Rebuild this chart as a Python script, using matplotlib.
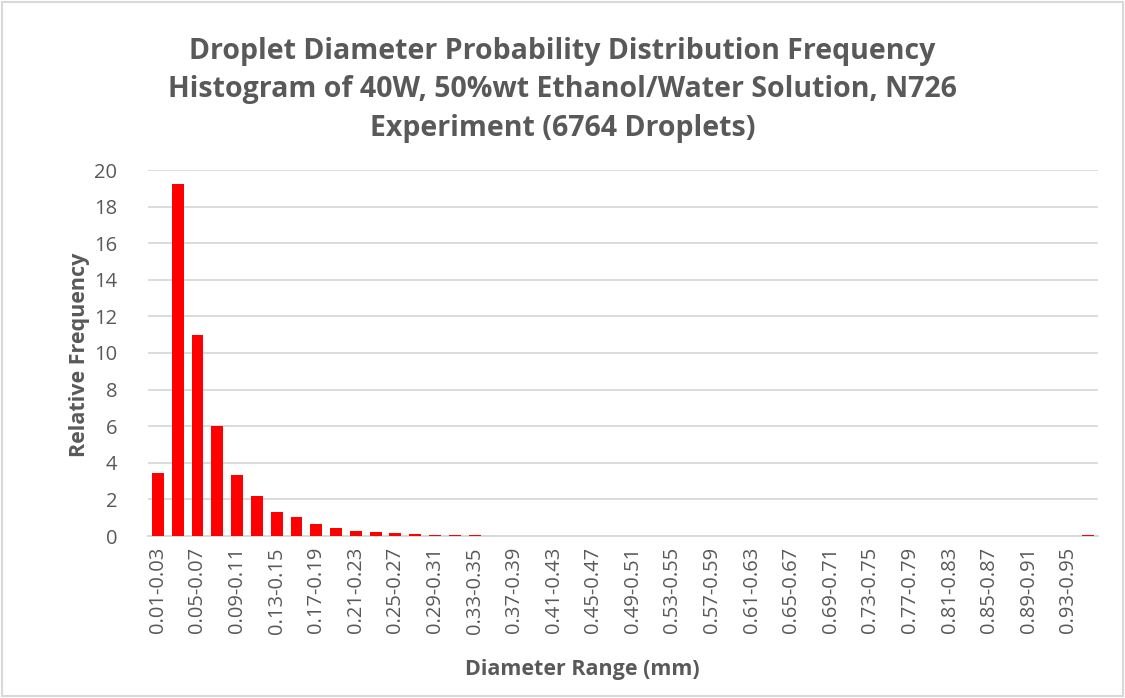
#!/usr/bin/env python3
"""
Droplet diameter relative frequency histogram (Excel-style column chart).
"""
import matplotlib
matplotlib.use('Agg')
import matplotlib.pyplot as plt
from matplotlib.patches import Rectangle

# Bin lower/upper edges in mm (0.01-0.03 ... 0.95-0.97)
bin_starts = [round(0.01 + 0.02 * i, 2) for i in range(48)]
categories = [f'{s:.2f}-{s + 0.02:.2f}' for s in bin_starts]

# Relative frequency (%)
rel_freq = [3.43, 19.25, 10.98, 6.02, 3.34, 2.17, 1.30, 1.02, 0.66, 0.42,
            0.26, 0.20, 0.18, 0.13, 0.03, 0.03, 0.05, 0.0, 0.02, 0.0,
            0.0, 0.0, 0.02, 0.0, 0.0, 0.0, 0.0, 0.0, 0.0, 0.0,
            0.0, 0.0, 0.0, 0.0, 0.0, 0.0, 0.0, 0.0, 0.0, 0.0,
            0.0, 0.0, 0.0, 0.0, 0.0, 0.0, 0.0, 0.03]

y_ticks = [0, 2, 4, 6, 8, 10, 12, 14, 16, 18, 20]

TEXT = '#595959'
GRID = '#d9d9d9'
plt.rcParams['font.family'] = ['Open Sans', 'DejaVu Sans']

fig = plt.figure(figsize=(11.25, 6.98), dpi=100)
ax = fig.add_axes([148 / 1125, 1 - 536 / 698, 950 / 1125, 366 / 698])

x = range(len(categories))
ax.bar(x, rel_freq, width=0.6, color='#ff0000', zorder=3)

ax.set_xlim(-0.5, len(categories) - 0.5)
ax.set_ylim(0, 20)
ax.set_yticks(y_ticks)
ax.set_yticklabels([str(t) for t in y_ticks], fontsize=14.5, color=TEXT)
ax.set_xticks(list(x)[::2])
ax.set_xticklabels(categories[::2], rotation=90, fontsize=14.5, color=TEXT)
ax.tick_params(axis='x', length=0, pad=8)
ax.tick_params(axis='y', length=0, pad=22)

ax.grid(axis='y', color=GRID, linewidth=1.3, zorder=0)
for side in ['top', 'right', 'left']:
    ax.spines[side].set_visible(False)
ax.spines['bottom'].set_color(GRID)
ax.spines['bottom'].set_linewidth(1.3)

ax.set_xlabel('Diameter Range (mm)', fontsize=15.5, fontweight='bold', color=TEXT)
ax.xaxis.set_label_coords((582 - 148) / 950, -(670 - 536) / 366)
ax.xaxis.label.set_va('center')
ax.set_ylabel('Relative Frequency', fontsize=15.5, fontweight='bold', color=TEXT)
ax.yaxis.set_label_coords((80 - 148) / 950, (536 - 355) / 366)
ax.yaxis.label.set_va('center')

fig.text(0.5, 1 - 90 / 698,
         'Droplet Diameter Probability Distribution Frequency\n'
         'Histogram of 40W, 50%wt Ethanol/Water Solution, N726\n'
         'Experiment (6764 Droplets)',
         ha='center', va='center', fontsize=20.5, fontweight='bold',
         color=TEXT, linespacing=1.45)

# light chart border
fig.patches.append(Rectangle((2 / 1125, 2 / 698), 1121 / 1125, 694 / 698,
                             transform=fig.transFigure, fill=False,
                             edgecolor='#d9d9d9', linewidth=1.5))

fig.savefig('out.png', dpi=100)
plt.close(fig)
